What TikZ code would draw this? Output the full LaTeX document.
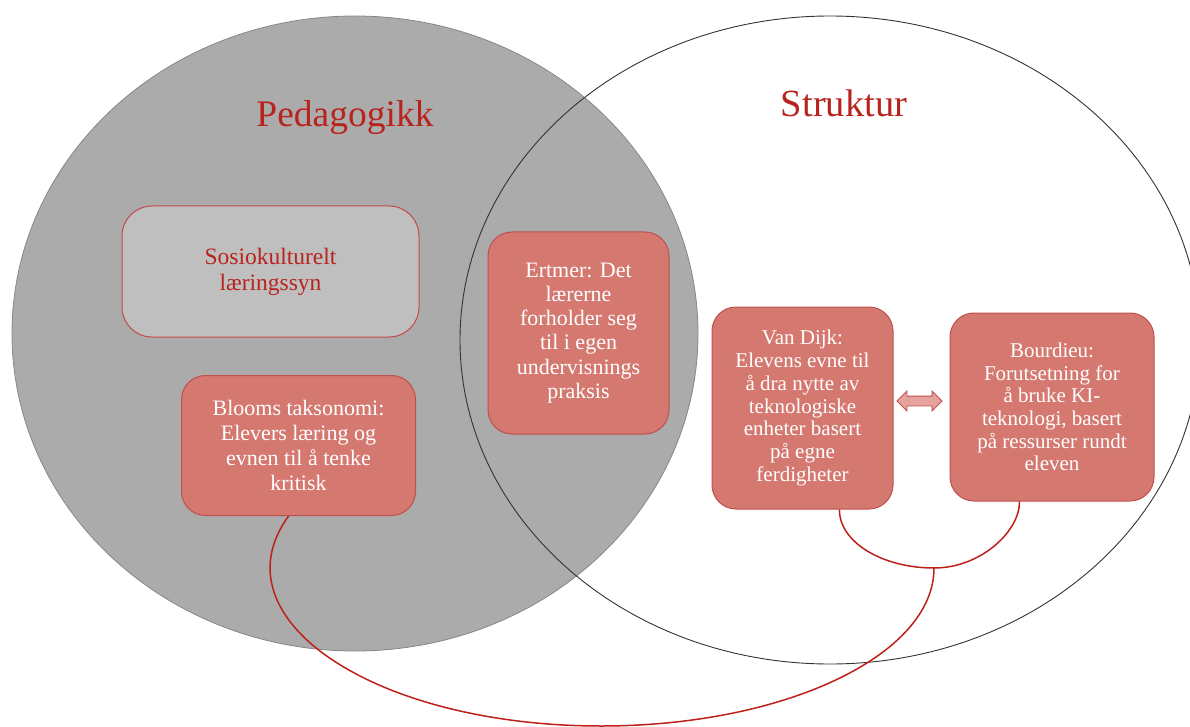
\documentclass[tikz,border=0pt]{standalone}
\usepackage{fontspec}
\setmainfont{Liberation Serif}
\usetikzlibrary{shapes.arrows,calc}
\definecolor{ellgray}{RGB}{171,171,171}
\definecolor{ellgrayline}{RGB}{135,135,135}
\definecolor{boxfill}{RGB}{212,120,112}
\definecolor{boxline}{RGB}{192,80,77}
\definecolor{sosiofill}{RGB}{191,191,191}
\definecolor{titlered}{RGB}{185,35,30}
\definecolor{curvered}{RGB}{190,32,26}
\definecolor{arrowfill}{RGB}{230,162,156}
\tikzset{
  redbox/.style={draw=boxline, line width=1pt, fill=boxfill, rounded corners=24pt,
    text=white, align=center, inner sep=0pt},
  greybox/.style={draw=boxline!90!red, line width=1pt, fill=sosiofill, rounded corners=30pt,
    text=titlered, align=center, inner sep=0pt},
  title/.style={text=titlered, anchor=base, inner sep=0pt},
  curve/.style={draw=curvered, line width=1.5pt},
}
\begin{document}
\begin{tikzpicture}[x=1pt,y=-1pt]
\useasboundingbox (0,0) rectangle (1190,727);
% Venn ellipses
\fill[ellgray] (355,333.5) ellipse [x radius=343, y radius=317.5];
\draw[ellgrayline, line width=0.8pt] (355,333.5) ellipse [x radius=343, y radius=317.5];
\draw[black!80, line width=0.9pt] (830,340) ellipse [x radius=370, y radius=324];
% titles
\node[title, font=\fontsize{37.5}{42}\selectfont] (ped) at (345,127) {Pedagogikk};
\node[title, font=\fontsize{38.5}{43}\selectfont] (struk) at (844,117) {Struktur};
% boxes
\node[greybox, minimum width=297pt, minimum height=131pt,
  font=\fontsize{23.5}{26}\selectfont] (sosio) at (270.5,271.5)
  {Sosiokulturelt\\læringssyn};
\node[redbox, minimum width=234pt, minimum height=140pt,
  font=\fontsize{22}{25}\selectfont] (bloom) at (298.5,445.5)
  {Blooms taksonomi:\\Elevers læring og\\evnen til å tenke\\kritisk};
\node[redbox, minimum width=181pt, minimum height=202pt,
  font=\fontsize{22}{24.2}\selectfont] (ertmer) at (578.5,333)
  {Ertmer: Det\\lærerne\\forholder seg\\til i egen\\undervisnings\\praksis};
\node[redbox, minimum width=181pt, minimum height=202pt,
  font=\fontsize{21}{22.7}\selectfont] (vandijk) at (802.5,408)
  {Van Dijk:\\Elevens evne til\\å dra nytte av\\teknologiske\\enheter basert\\på egne\\ferdigheter};
\node[redbox, minimum width=204pt, minimum height=188pt,
  font=\fontsize{21}{22.7}\selectfont] (bourdieu) at (1052,407)
  {Bourdieu:\\Forutsetning for\\å bruke KI-\\teknologi, basert\\på ressurser rundt\\eleven};
% double arrow
\node[double arrow, draw=boxline, line width=0.8pt, fill=arrowfill,
  inner xsep=0pt, inner ysep=4.5pt,
  minimum height=45pt, minimum width=19pt, double arrow head extend=5pt] (arr) at (919.5,401) {};
% curves
\coordinate (j) at (934,568);
\coordinate (bot) at (601,726);
\draw[curve] (bloom.-98) .. controls (214,618.5) and (374,726) .. (bot)
  .. controls (785,726) and (934,655) .. (j);
\draw[curve] (vandijk.-70) .. controls (839,541.6) and (881.6,568) .. (j)
  .. controls (981.5,568) and (1020,530.5) .. (bourdieu.-109);
\end{tikzpicture}
\end{document}
